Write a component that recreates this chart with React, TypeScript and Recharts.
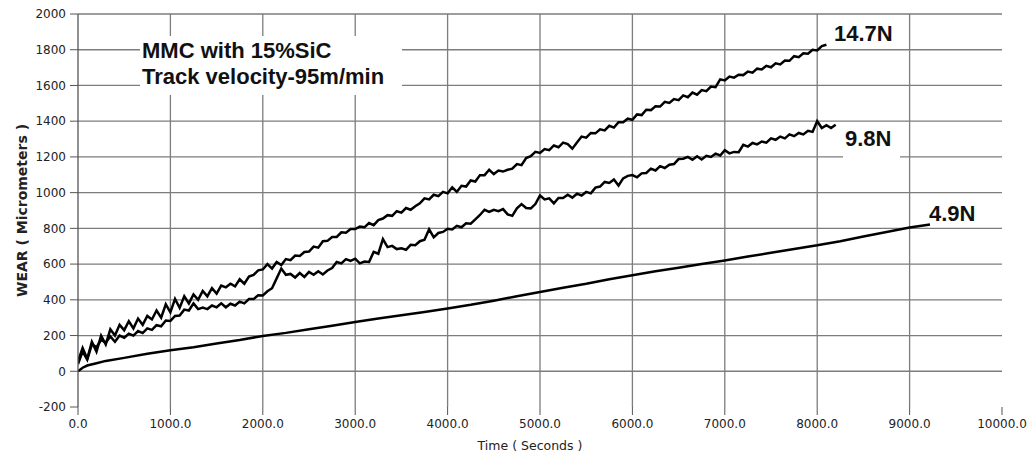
import React from "react";
import {
  LineChart,
  Line,
  XAxis,
  YAxis,
  CartesianGrid,
} from "recharts";

// sampling step (seconds) of the two noisy traces
const STEP = 50;

// 14.7N load, one value every 50 s from 0 s
const wear147 = [
  55, 130, 70, 165, 110, 200, 150, 235, 200, 260,
  230, 280, 240, 295, 260, 310, 290, 340, 300, 375,
  330, 405, 355, 420, 380, 430, 400, 450, 420, 465,
  435, 480, 470, 490, 475, 515, 490, 530, 540, 565,
  570, 600, 575, 612, 595, 628, 622, 648, 645, 668,
  670, 698, 692, 728, 730, 752, 752, 778, 776, 796,
  796, 810, 806, 830, 818, 846, 855, 874, 870, 896,
  888, 914, 904, 924, 940, 968, 962, 988, 980, 1004,
  996, 1030, 1004, 1038, 1034, 1068, 1062, 1098, 1098, 1128,
  1104, 1124, 1118, 1128, 1134, 1160, 1154, 1194, 1204, 1228,
  1222, 1244, 1238, 1264, 1254, 1280, 1272, 1246, 1280, 1314,
  1308, 1334, 1332, 1354, 1348, 1374, 1364, 1394, 1394, 1414,
  1408, 1438, 1434, 1464, 1462, 1484, 1482, 1508, 1502, 1524,
  1518, 1544, 1534, 1560, 1548, 1574, 1568, 1594, 1590, 1634,
  1628, 1650, 1644, 1660, 1658, 1678, 1672, 1694, 1690, 1710,
  1702, 1724, 1718, 1740, 1738, 1764, 1758, 1780, 1778, 1800,
  1796, 1820, 1828,
];

// 9.8N load, one value every 50 s from 0 s
const wear98 = [
  40, 110, 65, 150, 135, 175, 160, 195, 165, 200,
  188, 210, 200, 225, 214, 240, 232, 258, 252, 284,
  282, 310, 312, 345, 340, 380, 348, 356, 348, 368,
  358, 380, 358, 378, 368, 390, 380, 404, 404, 426,
  424, 448, 465, 520, 575, 540, 545, 525, 550, 528,
  556, 540, 560, 542, 564, 578, 612, 604, 628, 618,
  630, 604, 614, 612, 668, 658, 740, 695, 702, 684,
  688, 680, 708, 706, 728, 736, 795, 750, 774, 780,
  798, 794, 814, 806, 828, 826, 850, 875, 904, 892,
  904, 896, 908, 878, 870, 912, 936, 914, 912, 936,
  984, 962, 968, 940, 970, 970, 988, 972, 994, 984,
  1004, 996, 1028, 1034, 1060, 1054, 1074, 1040, 1080, 1094,
  1098, 1086, 1108, 1110, 1134, 1124, 1148, 1138, 1156, 1160,
  1188, 1190, 1200, 1184, 1204, 1186, 1206, 1200, 1218, 1208,
  1238, 1220, 1228, 1226, 1268, 1258, 1278, 1270, 1286, 1280,
  1304, 1296, 1314, 1304, 1326, 1316, 1334, 1326, 1346, 1340,
  1400, 1362, 1378, 1362, 1380,
];

// 4.9N load, smooth trace
const time49 = [
  0, 50, 100, 200, 300, 500, 750, 1000, 1250, 1500, 1750, 2000, 2250, 2500,
  2750, 3000, 3250, 3500, 3750, 4000, 4250, 4500, 4750, 5000, 5250, 5500,
  5750, 6000, 6250, 6500, 6750, 7000, 7250, 7500, 7750, 8000, 8250, 8500,
  8750, 9000, 9221,
];
const wear49 = [
  0, 20, 32, 45, 58, 75, 98, 118, 135, 155, 175, 198, 215, 235,
  255, 276, 295, 313, 332, 352, 372, 395, 420, 444, 468, 490,
  515, 538, 560, 580, 600, 620, 642, 663, 685, 705, 728, 755,
  780, 805, 822,
];

const xTicks = [0, 1000, 2000, 3000, 4000, 5000, 6000, 7000, 8000, 9000, 10000];
const yTicks = [-200, 0, 200, 400, 600, 800, 1000, 1200, 1400, 1600, 1800, 2000];
const gridX = [1000, 2000, 3000, 4000, 5000, 6000, 7000, 8000, 9000];
const gridY = [0, 200, 400, 600, 800, 1000, 1200, 1400, 1600, 1800, 2000];

const noteLines = ["MMC with 15%SiC", "Track velocity-95m/min"];

const d147 = wear147.map((w, i) => ({ t: i * STEP, w }));
const d98 = wear98.map((w, i) => ({ t: i * STEP, w }));
const d49 = time49.map((t, i) => ({ t, w: wear49[i] }));

const tickStyle = { fontSize: 12, fill: "#222", fontFamily: "DejaVu Sans" };
const labelFont = "'Liberation Sans', Arial, sans-serif";

export default function App() {
  return (
    <div
      style={{
        position: "absolute",
        left: 0,
        top: 0,
        width: 1028,
        height: 459,
        background: "#fff",
      }}
    >
      <LineChart
        width={1028}
        height={459}
        margin={{ top: 14, right: 26, left: 18, bottom: 7 }}
      >
        <CartesianGrid
          stroke="#7d7d7d"
          strokeWidth={1.3}
          horizontalValues={gridY}
          verticalValues={gridX}
        />
        <XAxis
          type="number"
          dataKey="t"
          domain={[0, 10000]}
          ticks={xTicks}
          tickFormatter={(v: number) => v.toFixed(1)}
          tick={tickStyle}
          axisLine={false}
          tickLine={{ stroke: "#555" }}
          tickSize={8}
          tickMargin={4}
          height={45}
          allowDataOverflow
          label={{
            value: "Time ( Seconds )",
            position: "insideBottom",
            offset: 2,
            dx: -10,
            style: { fontSize: 12.5, fill: "#222", fontFamily: "DejaVu Sans" },
          }}
        />
        <YAxis
          type="number"
          domain={[-200, 2000]}
          ticks={yTicks}
          tick={tickStyle}
          axisLine={{ stroke: "#555", strokeWidth: 1.3 }}
          tickLine={{ stroke: "#555" }}
          tickSize={8}
          tickMargin={4}
          width={60}
          allowDataOverflow
          label={{
            value: "WEAR ( Micrometers )",
            angle: -90,
            position: "insideLeft",
            offset: 4,
            style: {
              fontSize: 14,
              fontWeight: 700,
              fill: "#222",
              fontFamily: "DejaVu Sans",
              textAnchor: "middle",
            },
          }}
        />
        <Line
          data={d147}
          dataKey="w"
          type="linear"
          stroke="#000"
          strokeWidth={2.5}
          dot={false}
          isAnimationActive={false}
        />
        <Line
          data={d98}
          dataKey="w"
          type="linear"
          stroke="#000"
          strokeWidth={2.5}
          dot={false}
          isAnimationActive={false}
        />
        <Line
          data={d49}
          dataKey="w"
          type="linear"
          stroke="#000"
          strokeWidth={2.5}
          dot={false}
          isAnimationActive={false}
        />
      </LineChart>

      <div
        style={{
          position: "absolute",
          left: 140,
          top: 36,
          width: 262,
          height: 59,
          background: "#fff",
          fontFamily: labelFont,
          fontSize: 22,
          fontWeight: 700,
          lineHeight: "26px",
          color: "#111",
          paddingLeft: 2,
          paddingTop: 2,
          boxSizing: "border-box",
          whiteSpace: "nowrap",
        }}
      >
        {noteLines.map((s) => (
          <div key={s}>{s}</div>
        ))}
      </div>
      <div style={{ position: "absolute", left: 834, top: 21, fontFamily: labelFont, fontSize: 22, fontWeight: 700, color: "#111", background: "#fff", lineHeight: "26px" }}>
        14.7N
      </div>
      <div style={{ position: "absolute", left: 843, top: 126, width: 57, height: 36, fontFamily: labelFont, fontSize: 22, fontWeight: 700, color: "#111", background: "#fff", lineHeight: "26px", paddingLeft: 2, boxSizing: "border-box" }}>
        9.8N
      </div>
      <div style={{ position: "absolute", left: 929, top: 202, fontFamily: labelFont, fontSize: 22, fontWeight: 700, color: "#111", lineHeight: "24px" }}>
        4.9N
      </div>
    </div>
  );
}
